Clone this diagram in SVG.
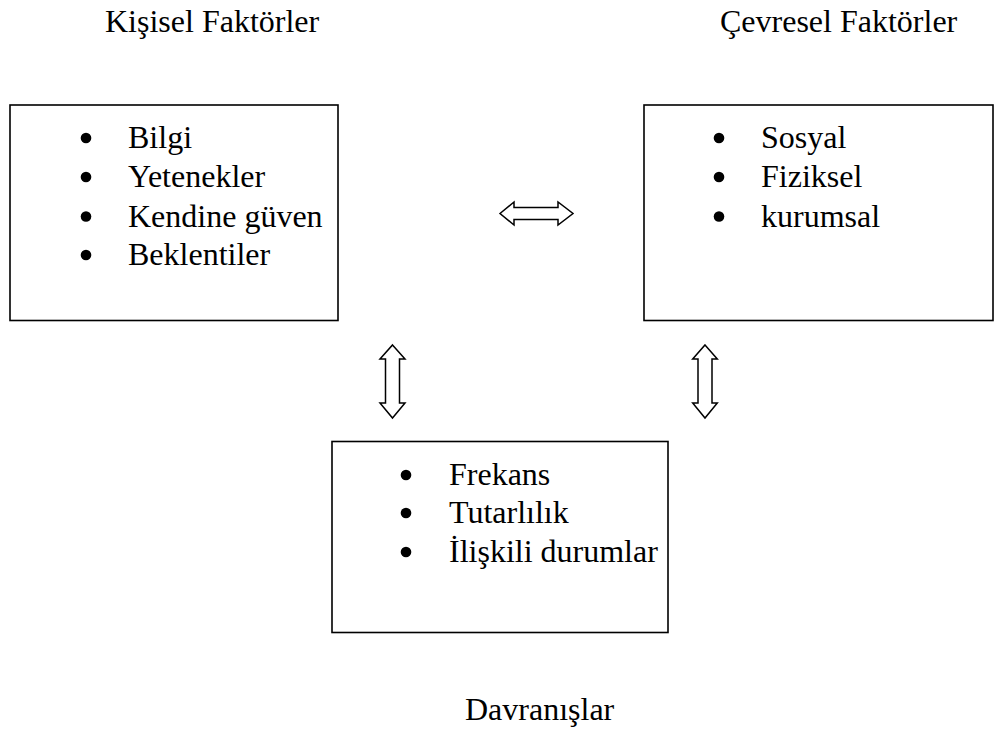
<svg xmlns="http://www.w3.org/2000/svg" width="994" height="729" viewBox="0 0 994 729" font-family="'Liberation Serif', 'Times New Roman', Tinos, serif">
<style>
text{font-family:'Liberation Serif','Times New Roman',Tinos,serif;font-size:32px;fill:#000}
.box{fill:#fff;stroke:#000;stroke-width:1.6}
.b{fill:#000}
.arr{fill:#fff;stroke:#000;stroke-width:1.5;stroke-linejoin:miter}
</style>
<rect width="994" height="729" fill="#fff"/>
<g id="title-kisisel"><text x="105" y="32">Kişisel Faktörler</text></g>
<g id="title-cevresel"><text x="720" y="32">Çevresel Faktörler</text></g>
<g id="node-kisisel">
<rect class="box" x="10" y="105" width="328" height="215.5"/>
<circle class="b" cx="86" cy="138" r="5.3"/><text x="128" y="148">Bilgi</text>
<circle class="b" cx="86" cy="177" r="5.3"/><text x="128" y="187">Yetenekler</text>
<circle class="b" cx="86" cy="216.5" r="5.3"/><text x="128" y="226.5">Kendine güven</text>
<circle class="b" cx="86" cy="255" r="5.3"/><text x="128" y="265">Beklentiler</text>
</g>
<g id="node-cevresel">
<rect class="box" x="644" y="105" width="349" height="215.5"/>
<circle class="b" cx="719" cy="138" r="5.3"/><text x="761" y="148">Sosyal</text>
<circle class="b" cx="719" cy="177" r="5.3"/><text x="761" y="187">Fiziksel</text>
<circle class="b" cx="719" cy="216.5" r="5.3"/><text x="761" y="226.5">kurumsal</text>
</g>
<g id="node-davranislar">
<rect class="box" x="332" y="441.5" width="336" height="191"/>
<circle class="b" cx="406" cy="475" r="5.3"/><text x="449" y="485">Frekans</text>
<circle class="b" cx="406" cy="513" r="5.3"/><text x="449" y="523">Tutarlılık</text>
<circle class="b" cx="406" cy="552" r="5.3"/><text x="449" y="562">İlişkili durumlar</text>
</g>
<g id="title-davranislar"><text x="465" y="720">Davranışlar</text></g>
<g id="connectors">
<polygon class="arr" points="500,213.5 514,202 514,207.5 558,207.5 558,202 573,213.5 558,225 558,219.5 514,219.5 514,225"/>
<polygon class="arr" points="392.5,345 405,359 399.5,359 399.5,403 405,403 392.5,418 380,403 385.5,403 385.5,359 380,359"/>
<polygon class="arr" points="705,345 717.3,359 712,359 712,403 717.3,403 705,418 692.7,403 698,403 698,359 692.7,359"/>
</g>
</svg>
